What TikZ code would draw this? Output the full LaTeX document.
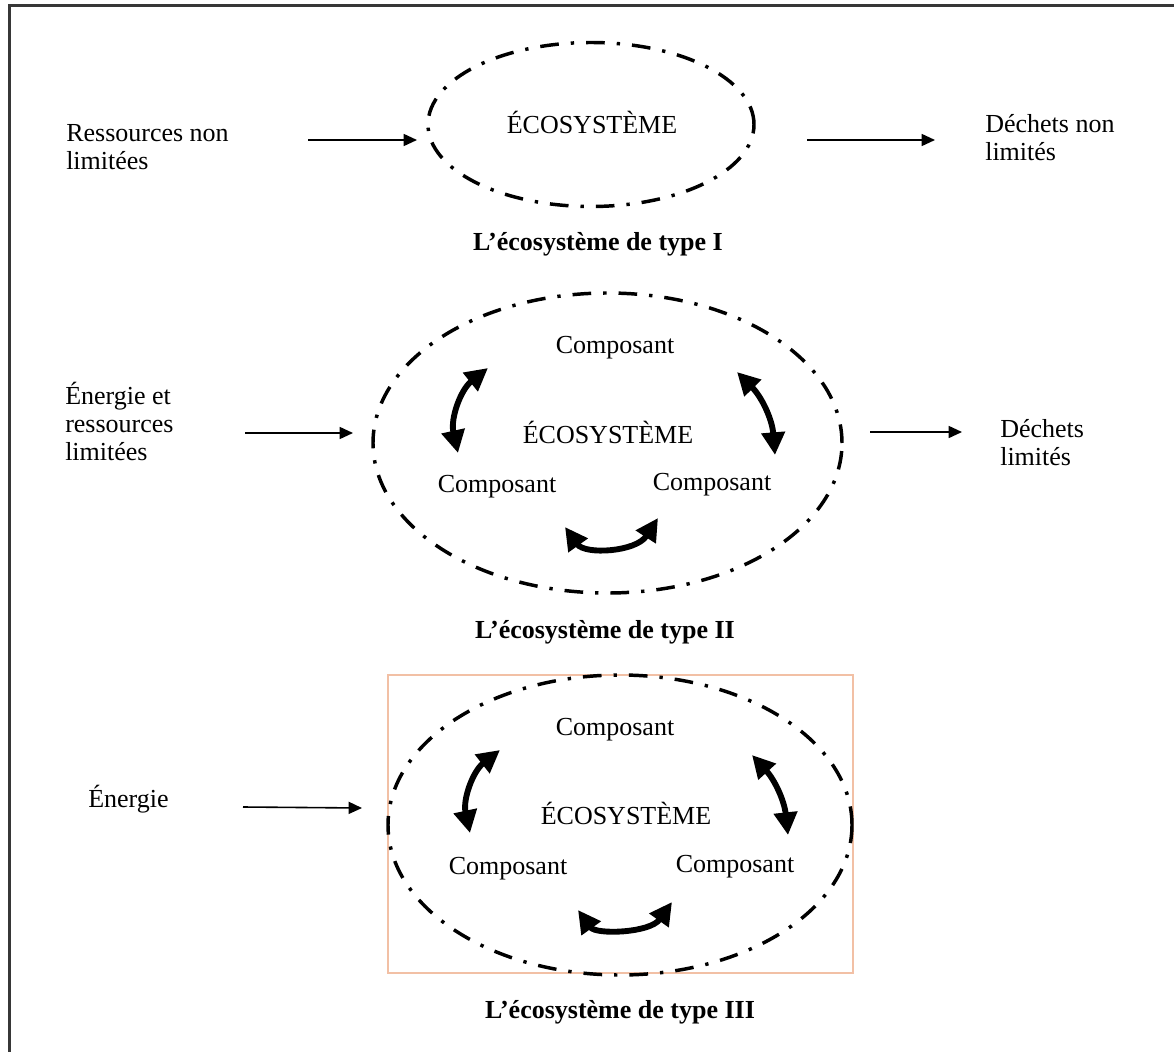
\documentclass[tikz,border=0pt]{standalone}
\usepackage{fontspec}
\setmainfont{Liberation Serif}
\usetikzlibrary{arrows.meta,shapes.geometric}
\definecolor{framegray}{RGB}{55,55,55}
\definecolor{peach}{RGB}{242,192,165}
\begin{document}
\begin{tikzpicture}[x=0.75pt,y=0.75pt,
  txt/.style={font=\fontsize{19.5}{21}\selectfont, inner sep=0pt},
  lbl/.style={txt, align=left, anchor=base west},
  captxt/.style={font=\fontsize{19.5}{21}\selectfont\bfseries, inner sep=0pt},
  eco/.style={draw, ellipse, inner sep=0pt, outer sep=0pt, line width=2.6pt,
    dash pattern=on 14pt off 9pt on 2.5pt off 9pt},
  arr/.style={line width=1.2pt, -{Triangle[length=10pt,width=9pt]}},
  biarr/.style={line width=4.4pt,
    {Triangle[length=17pt,width=17pt]}-{Triangle[length=17pt,width=17pt]}},
]
\useasboundingbox (0,0) rectangle (1174,-1052);
% outer frame (left and top)
\draw[framegray, line width=1.9pt] (9.5,-1052) -- (9.5,-5.5) -- (1174,-5.5);

% ---------------- Type I ----------------
\node[eco, minimum width=244.5pt, minimum height=123pt] (e1) at (591,-124.5) {};
\node[txt] (eco1) at (592,-122) {ÉCOSYSTÈME};
\node[lbl] (in1) at (66,-170) {Ressources non\\limitées};
\node[lbl] (out1) at (985,-161) {Déchets non\\limités};
\node[captxt] (cap1) at (598,-244) {L’écosystème de type I};
\coordinate (a1s) at (308,-140); \coordinate (a1e) at (417,-140);
\coordinate (b1s) at (807,-140); \coordinate (b1e) at (935,-140);
\draw[arr] (a1s) -- (a1e);
\draw[arr] (b1s) -- (b1e);

% ---------------- Type II ----------------
\node[eco, minimum width=351.75pt, minimum height=225pt] (e2) at (607.5,-443) {};
\node[txt] (c2t) at (615,-348) {Composant};
\node[txt] (eco2) at (608,-432) {ÉCOSYSTÈME};
\node[txt] (c2l) at (497,-487) {Composant};
\node[txt] (c2r) at (712,-485) {Composant};
\node[lbl] (in2) at (65,-460) {Énergie et\\ressources\\limitées};
\node[lbl] (out2) at (1000,-465) {Déchets\\limités};
\node[captxt] (cap2) at (605,-632) {L’écosystème de type II};
\coordinate (a2s) at (245,-433); \coordinate (a2e) at (353,-433);
\coordinate (b2s) at (870,-432); \coordinate (b2e) at (962,-432);
\draw[arr] (a2s) -- (a2e);
\draw[arr] (b2s) -- (b2e);
\coordinate (l2a) at (488,-368); \coordinate (l2b) at (458,-453);
\coordinate (r2a) at (737,-372); \coordinate (r2b) at (775,-455);
\coordinate (m2a) at (565,-527); \coordinate (m2b) at (658,-518);
\draw[biarr] (l2a) to[bend right=32] (l2b);
\draw[biarr] (r2a) to[bend left=20] (r2b);
\draw[biarr] (m2a) .. controls (585,-555) and (636,-552) .. (m2b);

% ---------------- Type III ----------------
\node[draw=peach, line width=1.2pt, inner sep=0pt, minimum width=348.75pt, minimum height=223.5pt] (box3) at (620.5,-824) {};
\node[eco, minimum width=348pt, minimum height=225pt] (e3) at (620,-825) {};
\node[txt] (c3t) at (615,-730) {Composant};
\node[txt] (eco3) at (626,-813) {ÉCOSYSTÈME};
\node[txt] (c3l) at (508,-869) {Composant};
\node[txt] (c3r) at (735,-867) {Composant};
\node[lbl] (in3) at (88,-807) {Énergie};
\node[captxt] (cap3) at (620,-1012) {L’écosystème de type III};
\coordinate (a3s) at (243,-807); \coordinate (a3e) at (362,-808);
\draw[arr] (a3s) -- (a3e);
\coordinate (l3a) at (500,-750); \coordinate (l3b) at (470,-833);
\coordinate (r3a) at (752,-755); \coordinate (r3b) at (788,-835);
\coordinate (m3a) at (578,-910); \coordinate (m3b) at (672,-902);
\draw[biarr] (l3a) to[bend right=32] (l3b);
\draw[biarr] (r3a) to[bend left=18] (r3b);
\draw[biarr] (m3a) .. controls (596,-935) and (650,-933) .. (m3b);
\end{tikzpicture}
\end{document}
